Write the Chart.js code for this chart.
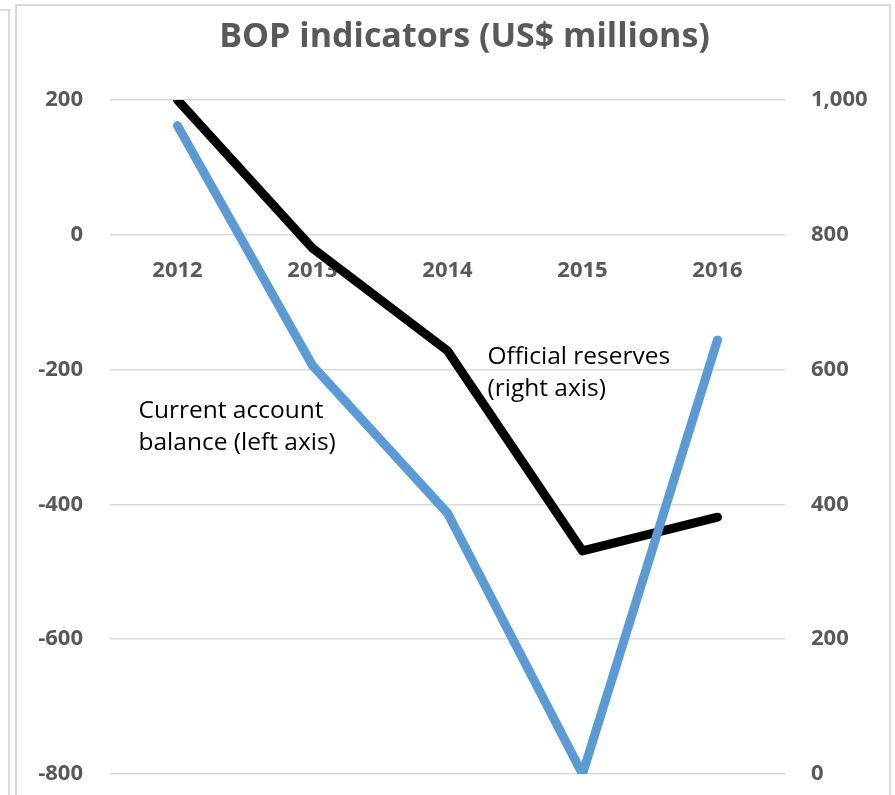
<!DOCTYPE html>
<html>
<head>
<meta charset="utf-8">
<script src="https://cdn.jsdelivr.net/npm/chart.js@4"></script>
<style>
  html, body { margin: 0; padding: 0; background: #fff; }
  #wrap { position: relative; width: 895px; height: 795px; overflow: hidden; }
  #prev { position: absolute; left: -10px; top: 9px; width: 16px; height: 800px; border: 2px solid #d9d9d9; }
  #box { position: absolute; left: 15px; top: 4px; width: 872px; height: 820px; border: 2px solid #d9d9d9; }
  canvas { position: absolute; left: 0; top: 0; }
</style>
</head>
<body>
<div id="wrap">
  <div id="prev"></div>
  <div id="box"></div>
  <canvas id="bopChart" width="895" height="795"></canvas>
</div>
<script>
// years on the category axis
const years = ['2012', '2013', '2014', '2015', '2016'];
// current account balance, US$ millions (left axis)
const currentAccount = [162, -194, -413, -800, -156];
// official reserves, US$ millions (right axis)
const officialReserves = [1000, 780, 628, 331, 381];
// axis ticks
const leftTicks = [-800, -600, -400, -200, 0, 200];
const rightTicks = [0, 200, 400, 600, 800, 1000];

const fontName = 'Open Sans';
const tickFont = { family: fontName, size: 22, weight: 'bold' };
const grey = '#595959';

// notes written inside the plot, anchored on a category and a left-axis value
const notes = [
    { lines: ['Current account', 'balance (left axis)'], at: 0, value: -272, dx: -39 },
    { lines: ['Official reserves', '(right axis)'], at: 2, value: -192, dx: 40 }
];

const notesPlugin = {
    id: 'notes',
    afterDatasetsDraw(chart) {
        const ctx = chart.ctx;
        const x = chart.scales.x;
        const y = chart.scales.y;
        ctx.save();
        ctx.font = '24.5px "' + fontName + '"';
        ctx.fillStyle = '#000';
        ctx.textAlign = 'left';
        ctx.textBaseline = 'alphabetic';
        notes.forEach(n => {
            const px = x.getPixelForValue(n.at) + n.dx;
            const py = y.getPixelForValue(n.value);
            n.lines.forEach((line, i) => ctx.fillText(line, px, py + i * 31.5));
        });
        ctx.restore();
    }
};

// keep the half-label overflow of the y axes from shrinking the plot
const noPad = scale => { scale.paddingTop = 0; scale.paddingBottom = 0; };

const ctx = document.getElementById('bopChart').getContext('2d');
const myChart = new Chart(ctx, {
    type: 'line',
    data: {
        labels: years,
        datasets: [{
            label: 'Current account balance (left axis)',
            data: currentAccount,
            yAxisID: 'y',
            borderColor: '#5b9bd5',
            borderWidth: 9,
            borderCapStyle: 'round',
            borderJoinStyle: 'round',
            pointRadius: 0,
            tension: 0
        }, {
            label: 'Official reserves (right axis)',
            data: officialReserves,
            yAxisID: 'y2',
            borderColor: '#000000',
            borderWidth: 9,
            borderCapStyle: 'round',
            borderJoinStyle: 'round',
            pointRadius: 0,
            tension: 0
        }]
    },
    options: {
        responsive: false,
        animation: false,
        layout: { padding: { left: 34, right: 0, top: 0, bottom: 21 } },
        plugins: {
            legend: { display: false },
            tooltip: { enabled: false },
            title: {
                display: true,
                text: 'BOP indicators (US$ millions)',
                color: grey,
                font: { family: fontName, size: 34, weight: 'bold', lineHeight: 1.2 },
                padding: { top: 17, bottom: 42.2 }
            }
        },
        scales: {
            x: {
                type: 'category',
                offset: true,
                position: { y: 0 },
                grid: { display: false },
                border: { display: false },
                ticks: { color: grey, font: tickFont, padding: 15, maxRotation: 0 }
            },
            y: {
                position: 'left',
                min: leftTicks[0],
                max: leftTicks[leftTicks.length - 1],
                afterBuildTicks: scale => { scale.ticks = leftTicks.map(v => ({ value: v })); },
                afterFit: scale => { scale.width = 76; noPad(scale); },
                grid: { color: '#d9d9d9', lineWidth: 1.5, drawTicks: false },
                border: { display: false },
                ticks: { color: grey, font: tickFont, padding: 27, callback: v => String(v) }
            },
            y2: {
                position: 'right',
                min: rightTicks[0],
                max: rightTicks[rightTicks.length - 1],
                afterBuildTicks: scale => { scale.ticks = rightTicks.map(v => ({ value: v })); },
                afterFit: scale => { scale.width = 110; noPad(scale); },
                grid: { display: false, drawTicks: false },
                border: { display: false },
                ticks: { color: grey, font: tickFont, padding: 26, callback: v => v.toLocaleString('en-US') }
            }
        }
    },
    plugins: [notesPlugin]
});
</script>
</body>
</html>
